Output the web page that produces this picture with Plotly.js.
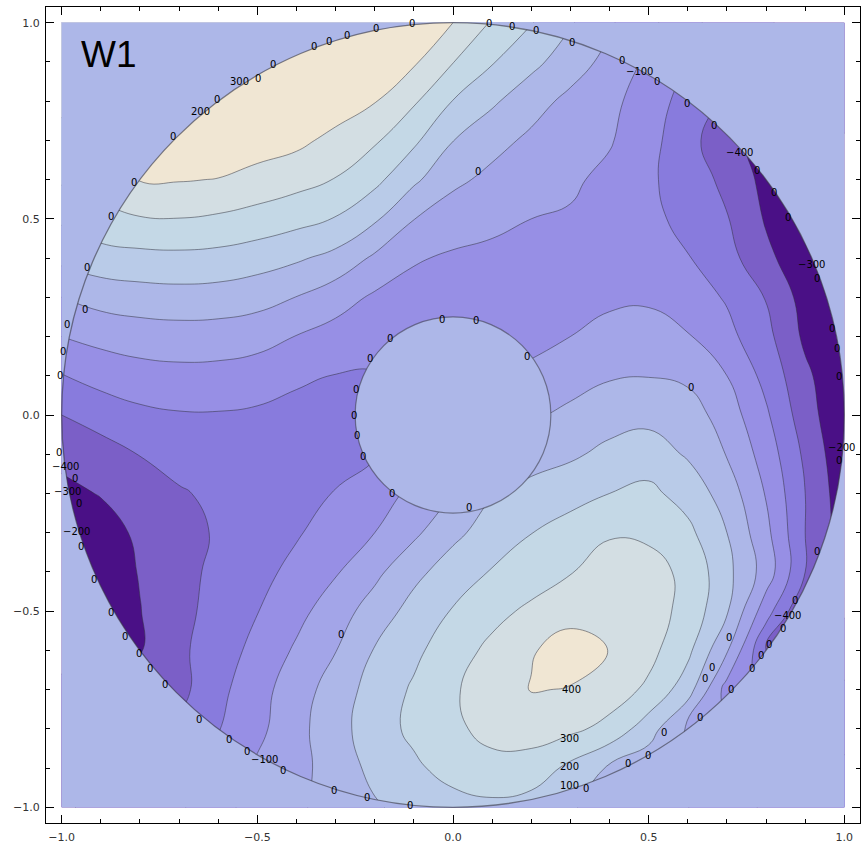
<!DOCTYPE html>
<html>
<head>
<meta charset="utf-8">
<script src="https://cdn.plot.ly/plotly-3.0.1.min.js"></script>
<style>
html,body{margin:0;padding:0;background:#ffffff;}
#chart{width:864px;height:850px;}
</style>
</head>
<body>
<div id="chart"></div>
<script>
// ---- grid coordinates (categories) ----
const xGrid = [-1.0,-0.9,-0.8,-0.7,-0.6,-0.5,-0.4,-0.3,-0.2,-0.1,0.0,0.1,0.2,0.3,0.4,0.5,0.6,0.7,0.8,0.9,1.0];
const yGrid = [-1.0,-0.9,-0.8,-0.7,-0.6,-0.5,-0.4,-0.3,-0.2,-0.1,0.0,0.1,0.2,0.3,0.4,0.5,0.6,0.7,0.8,0.9,1.0];

// ---- W1 values, one row per y (x = -1.0 ... 1.0) ----
const rowYp10 = [null,null,null,null,null,530,525,510,485,450,400,290,205,110,12,-75,null,null,null,null,null];
const rowYp09 = [null,null,null,null,535,535,525,510,470,413,303,207,128,47,-30,-120,-200,null,null,null,null];
const rowYp08 = [null,null,null,500,520,505,485,455,405,313,197,116,38,-25,-74,-149,-240,-315,null,null,null];
const rowYp07 = [null,null,445,480,470,450,425,371,313,219,102,32,-19,-55,-91,-170,-257,-385,-415,null,null];
const rowYp06 = [null,350,405,406,397,365,335,296,227,119,22,-25,-58,-84,-125,-184,-248,-325,-430,-440,null];
const rowYp05 = [215,265,293,298,285,262,232,195,115,2,-52,-82,-100,-110,-145,-175,-229,-294,-410,-450,-460];
const rowYp04 = [125,160,170,175,168,146,114,70,-17,-91,-113,-118,-120,-140,-150,-165,-195,-262,-377,-465,-475];
const rowYp03 = [0,38,55,62,57,37,-2,-57,-115,-134,-145,-145,-140,-125,-115,-112,-150,-210,-305,-440,-480];
const rowYp02 = [-100,-70,-52,-44,-47,-61,-103,-138,-168,-180,-160,-145,-120,-100,-74,-66,-93,-171,-270,-420,-490];
const rowYp01 = [-205,-164,-139,-130,-133,-151,-181,-203,-205,null,null,null,-85,-43,-10,-3,-21,-100,-231,-378,-490];
const rowY00  = [-300,-257,-223,-208,-207,-215,-235,-240,-240,null,null,null,-15,23,63,71,50,-48,-185,-355,-485];
const rowYm01 = [-375,-343,-297,-262,-247,-245,-240,-225,-210,null,null,null,70,86,123,149,89,-5,-143,-320,-475];
const rowYm02 = [-425,-395,-351,-310,-279,-262,-235,-196,-131,-85,0,95,123,157,200,224,160,56,-107,-300,-460];
const rowYm03 = [-455,-440,-383,-330,-291,-247,-209,-157,-100,-20,77,143,198,250,290,285,225,100,-73,-300,-445];
const rowYm04 = [-465,-455,-395,-333,-276,-229,-174,-109,-25,74,146,207,249,295,345,330,280,128,-43,-300,-425];
const rowYm05 = [-460,-450,-403,-330,-264,-203,-130,-48,46,135,207,270,320,368,397,340,272,110,-157,-405,-410];
const rowYm06 = [null,-430,-405,-320,-248,-171,-86,-3,106,178,256,324,392,440,398,330,224,10,-300,-370,null];
const rowYm07 = [null,null,-370,-330,-228,-135,-50,48,139,213,289,346,405,395,350,281,144,-140,-220,null,null];
const rowYm08 = [null,null,null,-275,-205,-125,-32,64,151,224,284,325,335,322,270,145,-20,-95,null,null,null];
const rowYm09 = [null,null,null,null,-165,-85,-35,50,125,181,240,275,265,174,85,35,12,null,null,null,null];
const rowYm10 = [null,null,null,null,null,-50,-15,37,90,130,160,175,150,105,78,52,null,null,null,null,null];

// ---- contour levels and band colours (lowest band first) ----
const levelStart = -400, levelEnd = 400, levelStep = 100;
const bandColors = ['#4a1086','#7b5fc7','#887bdd','#978fe5','#a3a5e8','#adb7e8','#b9cbe8','#c4d8e6','#d3dee3','#f0e6d3'];

// ---- contour label texts as printed on the picture ----
const labelTexts = [
 '0','0','0','0','0','0','0','0','0','0','0','0','200','300','0',
 '0','0','0','0','0','\u2212100','0','0','0','\u2212400','0','0','0','\u2212300','0',
 '0','0','0','\u2212200','0','0','0','\u2212400','0','0','0','0','0','0','0','0','0','100','0',
 '0','0','0','400','300','200','0','0','0',
 '0','0','0','0','0','0','0','0','0','0','0',
 '0','0','0','0','\u2212400','0','\u2212300','0','\u2212200','0','0','0','0','0','0','0','0','0','0','\u2212100','0','0','0','0'
];

// ------------------------------------------------------------------
const zGrid = [rowYm10,rowYm09,rowYm08,rowYm07,rowYm06,rowYm05,rowYm04,rowYm03,rowYm02,rowYm01,rowY00,
               rowYp01,rowYp02,rowYp03,rowYp04,rowYp05,rowYp06,rowYp07,rowYp08,rowYp09,rowYp10];
const nBands = bandColors.length - 1;
const colorscale = bandColors.map((c, i) => [i / nBands, c]);

const trace = {
  type: 'contour',
  x: xGrid, y: yGrid, z: zGrid,
  connectgaps: true,
  autocontour: false,
  contours: {start: levelStart, end: levelEnd, size: levelStep, coloring: 'fill', showlines: true},
  colorscale: colorscale,
  line: {color: 'rgba(45,45,55,0.5)', width: 1, smoothing: 1.3},
  showscale: false,
  hoverinfo: 'skip'
};

// label placements (data units), same order as labelTexts
const labelSpots = [
 [-0.941,0.268],[-0.936,0.375],[-0.875,0.506],[-0.814,0.593],[-0.716,0.710],[-0.602,0.805],[-0.461,0.894],[-0.354,0.940],[-0.318,0.953],[-0.272,0.968],[-0.198,0.986],[-0.106,0.999],[-0.645,0.774],[-0.545,0.851],[-0.499,0.858],
 [0.091,0.999],[0.152,0.991],[0.211,0.981],[0.305,0.950],[0.431,0.903],[0.477,0.876],[0.522,0.850],[0.599,0.794],[0.668,0.738],[0.732,0.669],[0.778,0.623],[0.819,0.567],[0.857,0.503],[0.916,0.383],[0.931,0.347],
 [0.969,0.220],[0.980,0.169],[0.987,0.097],[0.992,-0.084],[0.987,-0.117],[0.931,-0.347],[0.875,-0.473],[0.854,-0.511],[0.844,-0.545],[0.808,-0.585],[0.788,-0.613],[0.765,-0.646],[0.711,-0.700],[0.630,-0.771],[0.540,-0.810],[0.499,-0.868],[0.448,-0.889],[0.298,-0.945],[0.340,-0.953],
 [0.704,-0.567],[0.663,-0.644],[0.645,-0.672],[0.303,-0.700],[0.298,-0.825],[0.298,-0.897],[0.609,0.069],[0.063,0.621],[-0.285,-0.559],
 [-0.027,0.243],[0.060,0.240],[-0.162,0.194],[-0.211,0.143],[-0.249,0.064],[-0.254,0.0],[-0.246,-0.051],[-0.231,-0.107],[-0.155,-0.199],[0.040,-0.235],[0.190,0.148],
 [-0.987,0.230],[-0.997,0.163],[-1.003,0.100],[-1.008,-0.095],[-0.990,-0.132],[-0.965,-0.163],[-0.985,-0.195],[-0.955,-0.225],[-0.962,-0.296],[-0.951,-0.335],[-0.918,-0.419],[-0.875,-0.503],[-0.837,-0.564],[-0.803,-0.608],[-0.775,-0.646],[-0.737,-0.687],[-0.650,-0.776],[-0.573,-0.828],[-0.527,-0.858],[-0.482,-0.879],[-0.434,-0.905],[-0.303,-0.958],[-0.221,-0.976],[-0.109,-0.996]
];

const annotations = labelTexts.map((t, i) => ({
  x: labelSpots[i][0], y: labelSpots[i][1], xref: 'x', yref: 'y',
  text: t, showarrow: false, xanchor: 'center', yanchor: 'middle',
  font: {family: 'DejaVu Sans', size: 10, color: '#000'}
}));
annotations.push({
  x: -0.955, y: 0.918, xref: 'x', yref: 'y', text: 'W1', showarrow: false,
  xanchor: 'left', yanchor: 'middle',
  font: {family: 'Liberation Sans, Arial', size: 37, color: '#000'}
});

// circle helpers (cubic Bezier approximation)
function circlePath(r, reverse) {
  const k = 0.5522847 * r;
  if (!reverse) {
    return `M ${r} 0 C ${r} ${k}, ${k} ${r}, 0 ${r} C ${-k} ${r}, ${-r} ${k}, ${-r} 0 C ${-r} ${-k}, ${-k} ${-r}, 0 ${-r} C ${k} ${-r}, ${r} ${-k}, ${r} 0 Z`;
  }
  return `M ${r} 0 C ${r} ${-k}, ${k} ${-r}, 0 ${-r} C ${-k} ${-r}, ${-r} ${-k}, ${-r} 0 C ${-r} ${k}, ${-k} ${r}, 0 ${r} C ${k} ${r}, ${r} ${k}, ${r} 0 Z`;
}
const outerR = 1.0, innerR = 0.25;
const bg = '#adb7e8';
const shapes = [
  {type: 'path', xref: 'x', yref: 'y', layer: 'above', fillrule: 'evenodd',
   path: 'M -1 -1 L 1 -1 L 1 1 L -1 1 Z ' + circlePath(outerR, true),
   fillcolor: bg, line: {width: 0}},
  {type: 'path', xref: 'x', yref: 'y', layer: 'above',
   path: circlePath(outerR, false), fillcolor: 'rgba(0,0,0,0)',
   line: {color: 'rgba(55,55,65,0.6)', width: 1.3}},
  {type: 'path', xref: 'x', yref: 'y', layer: 'above',
   path: circlePath(innerR, false), fillcolor: bg,
   line: {color: 'rgba(55,55,65,0.55)', width: 1.2}}
];

const axisCommon = {
  range: [-1.04, 1.04], tick0: 0, dtick: 0.5, tickformat: '.1f',
  ticks: 'inside', ticklen: 8, tickwidth: 1, tickcolor: '#000',
  minor: {dtick: 0.1, ticks: 'inside', ticklen: 4, tickwidth: 1, tickcolor: '#000'},
  showline: true, linecolor: '#000', linewidth: 1, mirror: 'ticks',
  showgrid: false, zeroline: false,
  tickfont: {family: 'DejaVu Sans', size: 11, color: '#333'}
};

const layout = {
  width: 864, height: 850,
  margin: {l: 46, r: 4, t: 7, b: 27},
  paper_bgcolor: '#ffffff', plot_bgcolor: '#ffffff',
  xaxis: Object.assign({}, axisCommon, {ticklabelstandoff: 4}),
  yaxis: Object.assign({}, axisCommon, {ticklabelstandoff: 3}),
  shapes: shapes,
  annotations: annotations,
  showlegend: false
};

Plotly.newPlot('chart', [trace], layout, {displayModeBar: false, staticPlot: true});
</script>
</body>
</html>
